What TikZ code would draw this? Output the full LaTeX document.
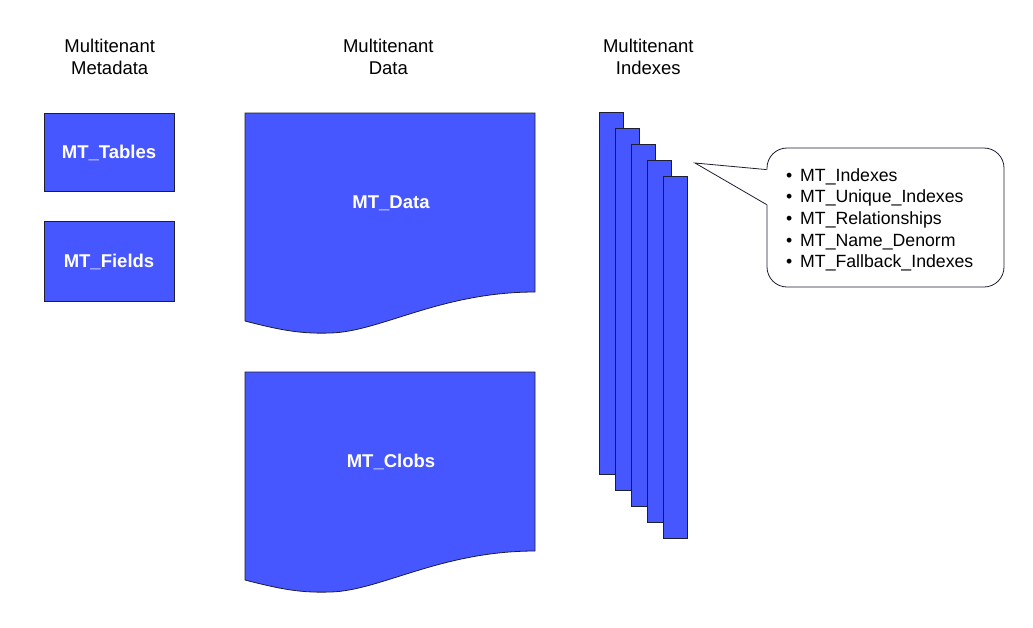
\documentclass[tikz,border=0pt]{standalone}
\usepackage{fontspec}
\setmainfont{Liberation Sans}
\usetikzlibrary{calc}
\definecolor{mtblue}{RGB}{71,87,255}
\definecolor{edge}{RGB}{30,30,50}
\begin{document}
\begin{tikzpicture}[x=1pt,y=-1pt,
  shapeline/.style={draw=edge, line width=0.8pt, fill=mtblue},
  lbl/.style={text=white, font=\fontsize{18.5}{22}\selectfont\bfseries, text height=0.72em, text depth=0pt, inner sep=0pt},
  box/.style={shapeline, lbl, minimum width=130pt},
  head/.style={font=\fontsize{18.5}{21.7}\selectfont, align=center, inner sep=0pt},
  idxbox/.style={shapeline, minimum width=24pt, minimum height=362pt, inner sep=0pt, anchor=north west},
  callbox/.style={draw=edge, line width=0.8pt, fill=white, rounded corners=20pt, minimum width=237pt, minimum height=139pt, inner sep=0pt},
  listtext/.style={font=\fontsize{17.7}{21.7}\selectfont, align=left, inner sep=0pt, anchor=north west}
]
\useasboundingbox (0,0) rectangle (1033,627);
\fill[white] (0,0) rectangle (1033,627);

% headers
\node[head] (h1) at (109.7,57) {Multitenant\\Metadata};
\node[head] (h2) at (388.3,57) {Multitenant\\Data};
\node[head] (h3) at (648.3,57) {Multitenant\\Indexes};

% metadata boxes
\node[box, minimum height=78pt] (tables) at (109,152) {\raisebox{-3pt}{MT\_Tables}};
\node[box, minimum height=80pt] (fields) at (109,261) {\raisebox{-3pt}{MT\_Fields}};

% document shapes
\path[shapeline] (245,113) -- (535,113) -- (535,292)
  .. controls (440,292) and (380,332) .. (330,333)
  .. controls (300,334) and (280,330) .. (245,321) -- cycle;
\node[lbl] (data) at (391,204.5) {MT\_Data};
\path[shapeline] (245,372) -- (535,372) -- (535,551)
  .. controls (440,551) and (380,591) .. (330,592)
  .. controls (300,593) and (280,589) .. (245,580) -- cycle;
\node[lbl] (clobs) at (391,463.5) {MT\_Clobs};

% stacked index sheets
\foreach \i in {0,...,4} {
  \node[idxbox] (idx\i) at ({599.3+16*\i},{112+16*\i}) {};
}

% callout
\node[callbox] (callout) at (885.5,217.5) {};
\coordinate (tip) at (695,163);
\fill[white] ($(callout.north west)+(-0.2,22)$) -- (tip) -- ($(callout.north west)+(-0.2,57)$)
  -- ($(callout.north west)+(1.6,57)$) -- ($(callout.north west)+(1.6,22)$) -- cycle;
\draw[draw=edge, line width=0.8pt, line join=miter] ($(callout.north west)+(0,22)$) -- (tip) -- ($(callout.north west)+(0,57)$);
\node[listtext] (items) at (786,168) {%
\makebox[14pt][l]{\textbullet}MT\_Indexes\\
\makebox[14pt][l]{\textbullet}MT\_Unique\_Indexes\\
\makebox[14pt][l]{\textbullet}MT\_Relationships\\
\makebox[14pt][l]{\textbullet}MT\_Name\_Denorm\\
\makebox[14pt][l]{\textbullet}MT\_Fallback\_Indexes};
\end{tikzpicture}
\end{document}
